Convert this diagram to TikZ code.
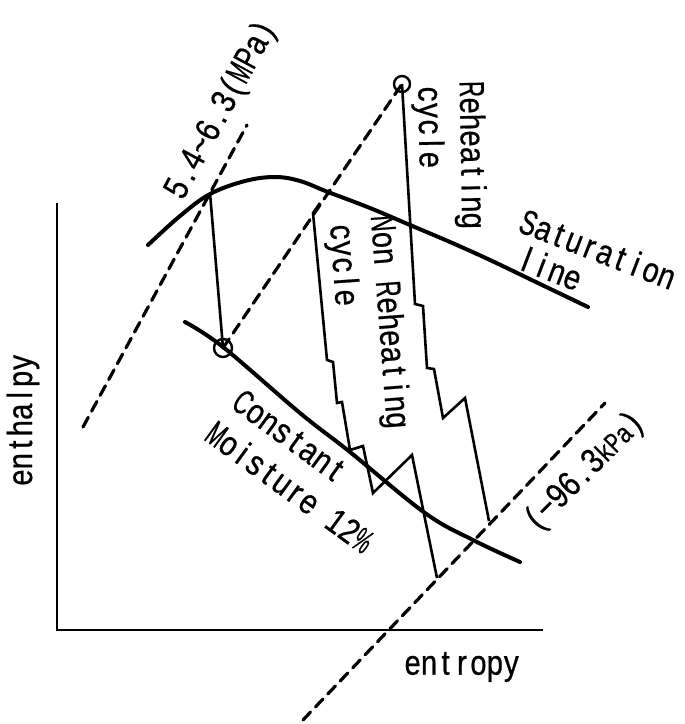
\documentclass[tikz,border=0pt]{standalone}
\usepackage{fontspec}
\usepackage{graphicx}
\setmainfont{Liberation Sans}[FakeStretch=0.85,FakeBold=0.6]
\newlength\cw
\newcommand\fitc[1]{\sbox0{#1}\ifdim\wd0>0.98\cw\makebox[\cw]{\resizebox{0.98\cw}{\height}{#1}}\else\makebox[\cw]{#1}\fi}
\newcommand\mono[1]{\setlength\cw{0.47em}\monoloop#1\relax}
\def\monoloop#1{\ifx\relax#1\else\fitc{#1}\expandafter\monoloop\fi}
\newcommand\msp{\makebox[0.47em]{}}
\begin{document}
\begin{tikzpicture}[x=0.5pt,y=-0.5pt,
  curve/.style={line width=2pt,line cap=round},
  cyc/.style={line width=1.3pt,line join=miter},
  axis/.style={line width=1.1pt},
  dline/.style={line width=1.6pt,dash pattern=on 5.5pt off 3.5pt,line cap=round},
  lbl/.style={font=\fontsize{17.5}{20}\selectfont,inner sep=0pt}]
\useasboundingbox (0,0) rectangle (685,724);
% axes
\coordinate (ytop) at (57,203);
\coordinate (orig) at (57,630);
\coordinate (xend) at (543,630);
\draw[axis] (ytop) -- (orig) -- (xend);
% key points
\coordinate (A) at (210,193);
\coordinate (B) at (223,348);
\coordinate (C) at (402,84);
\coordinate (D1a) at (83,427);
\coordinate (D1b) at (247,125);
\coordinate (D3a) at (303,720);
\coordinate (D3b) at (605,403);
% saturation line
\draw[curve] plot[smooth,tension=0.6] coordinates {(148,245) (180,216) (210,194) (245,181) (275,177) (300,181) (328,192) (370,208) (410,225) (450,242) (490,260) (540,284) (588,307)};
% constant moisture line
\draw[curve] plot[smooth,tension=0.6] coordinates {(185,322) (223,347) (300,413) (350,452) (425,513) (473,540) (520,562)};
% dashed pressure lines
\draw[dline] (D1a) -- (D1b);
\draw[dline] (B) -- (C);
\draw[dline] (D3a) -- (D3b);
% circles
\node[draw,circle,line width=1.2pt,minimum size=9pt,inner sep=0pt] (cB) at (B) {};
\node[draw,circle,line width=1.2pt,minimum size=8pt,inner sep=0pt] (cC) at (C) {};
% expansion line to circle
\draw[cyc] (A) -- (B);
% reheating cycle line
\draw[cyc] (C) -- (415,304) -- (423,306) -- (427,368) -- (434,369) -- (443,418) -- (465,398) -- (489,521);
% non reheating cycle line
\draw[cyc] (320,203) -- (313,213) -- (327,360) -- (333,362) -- (337,403) -- (342,402) -- (350,450) -- (363,446) -- (373,493) -- (412,455) -- (437,578);
% labels
\node[lbl,rotate=90] (lh) at (23,420) {\mono{enthalpy}};
\node[lbl] (ls) at (462,667) {\mono{entropy}};
\node[lbl,rotate=61.5] (lp1) at (222,110) {\mono{5.4}\mono{\textasciitilde}\mono{6.3(MPa)}};
\node[lbl,rotate=-89] (lr1) at (470,155) {\mono{Reheating}};
\node[lbl,rotate=-89] (lr2) at (428,127) {\mono{cycle}};
\node[lbl,rotate=-85.6] (ln1) at (388,322) {\mono{Non}\msp\mono{Reheating}};
\node[lbl,rotate=-86] (ln2) at (342,265) {\mono{cycle}};
\node[lbl,rotate=-21] (lsat1) at (598,249) {\mono{Saturation}};
\node[lbl,rotate=-21] (lsat2) at (550,268) {\mono{line}};
\node[lbl,rotate=-36] (lc1) at (290,436) {\mono{Constant}};
\node[lbl,rotate=-36] (lc2) at (290,487) {\mono{Moisture}\msp\mono{12\%}};
\node[lbl,rotate=45] (lp2) at (585,472) {\mono{(−96.3}{\fontsize{14}{16}\selectfont\mono{kPa}}\mono{)}};
\end{tikzpicture}
\end{document}
